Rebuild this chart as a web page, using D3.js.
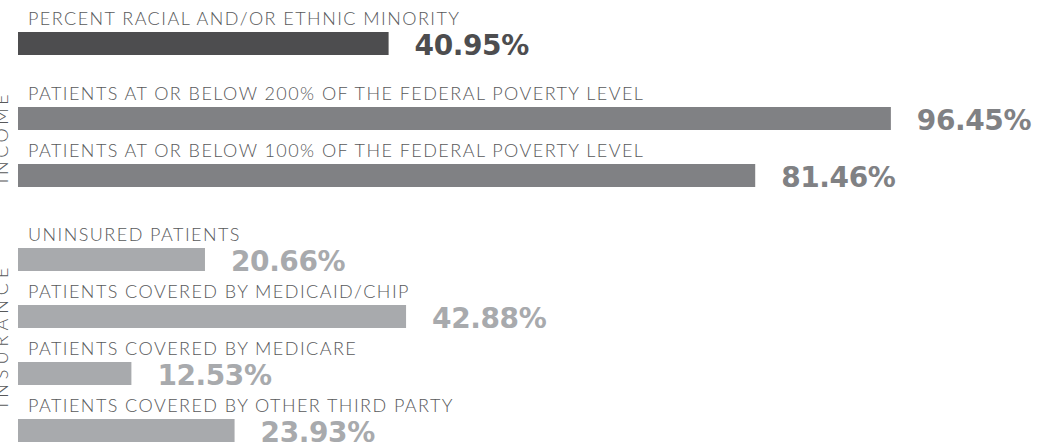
<!DOCTYPE html>
<html>
<head>
<meta charset="utf-8">
<script src="https://cdn.jsdelivr.net/npm/d3@7"></script>
<style>
  html, body { margin: 0; padding: 0; background: #ffffff; }
  svg { display: block; }
</style>
</head>
<body>
<svg id="chart" width="1038" height="445"></svg>
<script>
// ---- data ----
const groupNames = ["", "INCOME", "INSURANCE"];
const categories = [
  "PERCENT RACIAL AND/OR ETHNIC MINORITY",
  "PATIENTS AT OR BELOW 200% OF THE FEDERAL POVERTY LEVEL",
  "PATIENTS AT OR BELOW 100% OF THE FEDERAL POVERTY LEVEL",
  "UNINSURED PATIENTS",
  "PATIENTS COVERED BY MEDICAID/CHIP",
  "PATIENTS COVERED BY MEDICARE",
  "PATIENTS COVERED BY OTHER THIRD PARTY"
];
const values = [40.95, 96.45, 81.46, 20.66, 42.88, 12.53, 23.93];
const groupOf = [0, 1, 1, 2, 2, 2, 2];
const valueLabels = ["40.95%", "96.45%", "81.46%", "20.66%", "42.88%", "12.53%", "23.93%"];

// ---- styles / layout ----
const colors = ["#4d4d4f", "#808184", "#a8aaad"];
const labelColor = "#58595b";
const barLeft = 18;
const barH = 23;
const rowStep = 57;
const groupGaps = [0, 18, 27];
const firstTop = 32;

const svg = d3.select("#chart");
const x = d3.scaleLinear().domain([0, 100]).range([barLeft, barLeft + 905]);

// compute row top positions
const tops = [];
let cur = firstTop;
categories.forEach((c, i) => {
  if (i > 0) {
    cur += rowStep;
    if (groupOf[i] !== groupOf[i - 1]) cur += groupGaps[groupOf[i]];
  }
  tops.push(cur);
});
const y = d3.scaleOrdinal().domain(categories).range(tops);

const rows = categories.map((c, i) => ({ c, v: values[i], g: groupOf[i], lab: valueLabels[i] }));

const row = svg.selectAll("g.row").data(rows).join("g").attr("class", "row");

row.append("text")
  .attr("x", barLeft + 10)
  .attr("y", d => y(d.c) - 7)
  .attr("font-family", "Lato, 'Open Sans', sans-serif")
  .attr("font-weight", 300)
  .attr("font-size", 18)
  .attr("letter-spacing", 1.45)
  .attr("fill", labelColor)
  .text(d => d.c);

row.append("rect")
  .attr("x", x(0))
  .attr("y", d => y(d.c))
  .attr("width", d => x(d.v) - x(0))
  .attr("height", barH)
  .attr("fill", d => colors[d.g]);

row.append("text")
  .attr("x", d => x(d.v) + 26)
  .attr("y", d => y(d.c) + barH)
  .attr("font-family", "'DejaVu Sans', sans-serif")
  .attr("font-weight", "bold")
  .attr("font-size", 28)
  .attr("letter-spacing", -0.4)
  .attr("fill", d => colors[d.g])
  .text(d => d.lab);

// side group labels (partially cut off at the left edge)
groupNames.forEach((name, gi) => {
  if (!name) return;
  const idx = groupOf.map((g, i) => g === gi ? i : -1).filter(i => i >= 0);
  const top = y(categories[idx[0]]) - 20;
  const bottom = y(categories[idx[idx.length - 1]]) + barH;
  const cy = (top + bottom) / 2;
  svg.append("text")
    .attr("transform", `translate(8,${cy}) rotate(-90)`)
    .attr("text-anchor", "middle")
    .attr("font-family", "Lato, 'Open Sans', sans-serif")
    .attr("font-weight", 300)
    .attr("font-size", 18)
    .attr("letter-spacing", gi === 1 ? 3.5 : 5)
    .attr("fill", labelColor)
    .text(name);
});
</script>
</body>
</html>
